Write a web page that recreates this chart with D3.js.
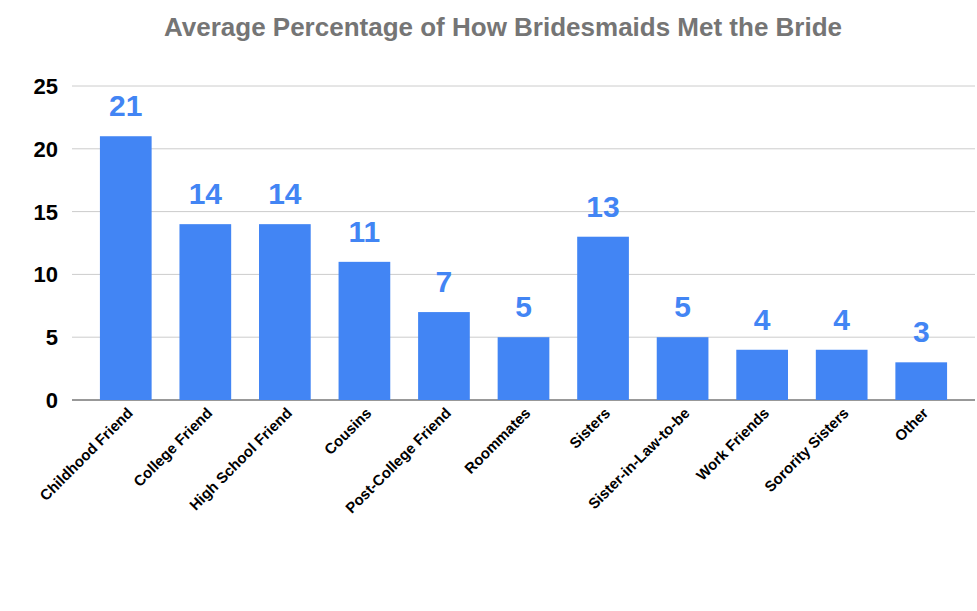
<!DOCTYPE html>
<html><head><meta charset="utf-8">
<script src="https://cdn.jsdelivr.net/npm/d3@7"></script>
<style>body{margin:0;background:#fff;font-family:Arial,"Liberation Sans",sans-serif}</style>
</head><body><div id="chart"></div>
<script>
var categories = ['Childhood Friend','College Friend','High School Friend','Cousins','Post-College Friend',
                  'Roommates','Sisters','Sister-in-Law-to-be','Work Friends','Sorority Sisters','Other'];
var values = [21, 14, 14, 11, 7, 5, 13, 5, 4, 4, 3];
var yTicks = [0, 5, 10, 15, 20, 25];

var width = 977, height = 611;
var x = d3.scaleBand().domain(categories).range([86, 961]).paddingInner(0.35).paddingOuter(0.175);
var y = d3.scaleLinear().domain([0, 25]).range([400, 86]);

var svg = d3.select('#chart').append('svg')
    .attr('width', width).attr('height', height);

svg.append('text')
    .attr('x', 503).attr('y', 36)
    .attr('text-anchor', 'middle')
    .style('font-size', '26px').style('font-weight', 'bold').style('fill', '#757575')
    .text('Average Percentage of How Bridesmaids Met the Bride');

// grid
svg.selectAll('line.grid').data(yTicks).enter().append('line')
    .attr('x1', 72).attr('x2', 975)
    .attr('y1', function(d){ return y(d); }).attr('y2', function(d){ return y(d); })
    .style('stroke', function(d){ return d === 0 ? '#333' : '#ccc'; })
    .style('stroke-width', 1);

svg.selectAll('text.ytick').data(yTicks).enter().append('text')
    .attr('x', 58).attr('y', function(d){ return y(d) + 8; })
    .attr('text-anchor', 'end')
    .style('font-size', '22px').style('font-weight', 'bold').style('fill', '#000')
    .text(function(d){ return d; });

svg.selectAll('rect').data(values).enter().append('rect')
    .attr('x', function(d, i){ return x(categories[i]); })
    .attr('width', x.bandwidth())
    .attr('y', function(d){ return y(d); })
    .attr('height', function(d){ return y(0) - y(d); })
    .style('fill', '#4285F4');

svg.selectAll('text.val').data(values).enter().append('text')
    .attr('x', function(d, i){ return x(categories[i]) + x.bandwidth() / 2; })
    .attr('y', function(d){ return y(d) - 20; })
    .attr('text-anchor', 'middle')
    .style('font-size', '30px').style('font-weight', 'bold').style('fill', '#4285F4')
    .text(function(d){ return d; });

svg.selectAll('text.cat').data(categories).enter().append('text')
    .attr('transform', function(d){
      return 'translate(' + (x(d) + x.bandwidth() / 2 + 8) + ',414) rotate(-45)';
    })
    .attr('text-anchor', 'end')
    .style('font-size', '15px').style('font-weight', 'bold').style('fill', '#000')
    .text(function(d){ return d; });
</script>
</body></html>
